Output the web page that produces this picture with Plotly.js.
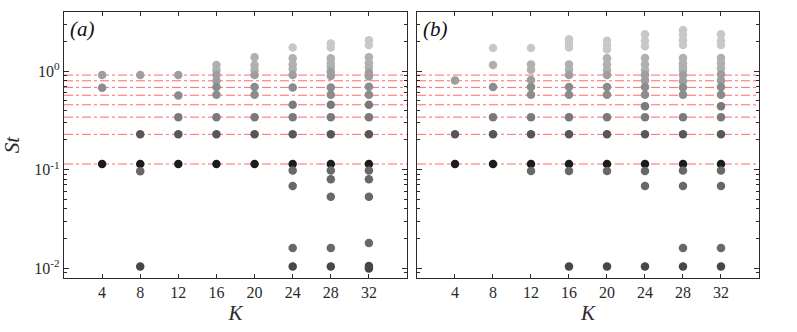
<!DOCTYPE html>
<html>
<head>
<meta charset="utf-8">
<script src="https://cdn.plot.ly/plotly-3.0.1.min.js"></script>
<style>
  body { margin: 0; background: #fff; }
  #chart { width: 797px; height: 332px; }
</style>
</head>
<body>
<div id="chart"></div>
<script>
// number of modes K (x positions)
var K = [4, 8, 12, 16, 20, 24, 28, 32];

// harmonics of the base frequency (red dash-dot lines)
var harmonics = [0.114, 0.228, 0.341, 0.455, 0.569, 0.683, 0.797, 0.911];

// panel (a): Strouhal numbers of the spectral peaks, one list per K
var stA = [
    [0.911, 0.677, 0.114],
    [0.911, 0.228, 0.114, 0.096, 0.0104],
    [0.911, 0.566, 0.341, 0.228, 0.114],
    [1.15, 1.02, 0.911, 0.797, 0.688, 0.574, 0.341, 0.228, 0.114],
    [1.38, 1.15, 1.02, 0.911, 0.688, 0.574, 0.341, 0.228, 0.114],
    [1.74, 1.35, 1.17, 1.05, 0.911, 0.683, 0.455, 0.341, 0.228, 0.114, 0.098, 0.068, 0.016, 0.0104],
    [1.91, 1.74, 1.35, 1.20, 1.10, 0.985, 0.89, 0.683, 0.574, 0.455, 0.341, 0.228, 0.114, 0.098, 0.080, 0.053, 0.016, 0.0104],
    [2.06, 1.84, 1.38, 1.20, 1.09, 0.96, 0.88, 0.693, 0.574, 0.455, 0.341, 0.228, 0.114, 0.098, 0.080, 0.053, 0.018, 0.0105, 0.0099]
];

// panel (b)
var stB = [
    [0.805, 0.228, 0.114],
    [1.72, 1.15, 0.688, 0.341, 0.228, 0.114],
    [1.72, 1.17, 1.03, 0.81, 0.688, 0.574, 0.341, 0.228, 0.114, 0.097],
    [2.1, 1.91, 1.74, 1.17, 1.03, 0.911, 0.688, 0.574, 0.341, 0.228, 0.114, 0.097, 0.0104],
    [2.03, 1.84, 1.66, 1.35, 1.17, 1.02, 0.911, 0.688, 0.574, 0.341, 0.228, 0.114, 0.097, 0.0104],
    [2.37, 2.03, 1.79, 1.36, 1.17, 1.02, 0.911, 0.805, 0.688, 0.574, 0.441, 0.341, 0.228, 0.114, 0.097, 0.068, 0.0104],
    [2.61, 2.32, 2.06, 1.84, 1.36, 1.2, 1.1, 1.02, 0.911, 0.79, 0.683, 0.574, 0.341, 0.228, 0.114, 0.098, 0.068, 0.016, 0.0104],
    [2.37, 2.03, 1.84, 1.36, 1.21, 1.07, 0.93, 0.805, 0.69, 0.574, 0.441, 0.341, 0.228, 0.114, 0.098, 0.068, 0.016, 0.0104]
];

// y tick labels
var yTicks = [0.01, 0.1, 1];
var yTickText = ['10<sup>-2</sup>', '10<sup>-1</sup>', '10<sup>0</sup>'];

// grey shade of a marker
function shade(st) {
    if (st < 0.012) return '#474747';
    if (st < 0.105) return '#686868';
    if (st < 0.15) return '#1c1c1c';
    if (st < 0.28) return '#575757';
    if (st < 0.5) return '#7a7a7a';
    if (st < 0.75) return '#8c8c8c';
    if (st < 1.0) return '#9e9e9e';
    if (st < 1.5) return '#b0b0b0';
    return '#c8c8c8';
}

function makeTrace(st, xa, ya) {
    var xs = [], ys = [], cs = [];
    for (var i = 0; i < K.length; i++) {
        for (var j = 0; j < st[i].length; j++) {
            xs.push(K[i]);
            ys.push(st[i][j]);
            cs.push(shade(st[i][j]));
        }
    }
    return {
        x: xs, y: ys, xaxis: xa, yaxis: ya,
        mode: 'markers', type: 'scatter',
        marker: { size: 8.5, color: cs, line: { width: 0 } },
        hoverinfo: 'x+y', showlegend: false
    };
}

// minor tick positions 2..9 in each decade
var minorVals = [];
[0.001, 0.01, 0.1, 1].forEach(function (d) {
    for (var m = 2; m <= 9; m++) minorVals.push(m * d);
});

var serif = '"Liberation Serif", "Times New Roman", "DejaVu Serif", serif';
var ink = '#2a2a2a';

var xBase = {
    range: [0, 36],
    tickvals: K,
    ticks: 'inside', ticklen: 4, tickcolor: ink,
    showline: true, linecolor: ink, linewidth: 1.2, mirror: 'ticks',
    showgrid: false, zeroline: false,
    tickfont: { family: serif, size: 16, color: ink },
    title: { text: '<i>K</i>', font: { family: serif, size: 21, color: ink }, standoff: 5 }
};

var yBase = {
    type: 'log',
    range: [-2.1, 0.6],
    tickvals: yTicks,
    ticktext: yTickText,
    ticks: 'inside', ticklen: 5, tickcolor: ink,
    showline: true, linecolor: ink, linewidth: 1.2, mirror: 'ticks',
    showgrid: false, zeroline: false,
    tickfont: { family: serif, size: 16, color: ink }
};

// overlaid axes that only draw the short minor ticks
function minorAxis(anchor, over, side) {
    return {
        type: 'log', range: [-2.1, 0.6], overlaying: over, anchor: anchor, side: side,
        tickvals: minorVals, ticks: 'inside', ticklen: 3, tickcolor: ink,
        showticklabels: false, showline: false, showgrid: false, zeroline: false
    };
}

var dom = [0.1627, 0.9639];

var shapes = [];
['x', 'x2'].forEach(function (xa, p) {
    harmonics.forEach(function (h) {
        shapes.push({
            type: 'line', xref: xa + ' domain', yref: p ? 'y2' : 'y',
            x0: 0, x1: 1, y0: h, y1: h,
            line: { color: 'rgba(255,90,90,0.9)', width: 1, dash: 'dashdot' },
            layer: 'below'
        });
    });
});

var layout = {
    width: 797, height: 332,
    margin: { l: 0, r: 0, t: 0, b: 0 },
    paper_bgcolor: '#fff', plot_bgcolor: '#fff',
    xaxis: Object.assign({}, xBase, { domain: [0.0803, 0.5107], anchor: 'y' }),
    xaxis2: Object.assign({}, xBase, { domain: [0.5232, 0.9523], anchor: 'y2' }),
    yaxis: Object.assign({}, yBase, {
        domain: dom, anchor: 'x',
        title: { text: '<i>St</i>', font: { family: serif, size: 21, color: ink }, standoff: 9 }
    }),
    yaxis2: Object.assign({}, yBase, { domain: dom, anchor: 'x2', showticklabels: false }),
    yaxis3: minorAxis('x', 'y', 'left'),
    yaxis4: minorAxis('x', 'y', 'right'),
    yaxis5: minorAxis('x2', 'y2', 'left'),
    yaxis6: minorAxis('x2', 'y2', 'right'),
    shapes: shapes,
    annotations: [
        { xref: 'x domain', yref: 'y domain', x: 0.012, y: 0.99, xanchor: 'left', yanchor: 'top',
          text: '<i>(a)</i>', showarrow: false, font: { family: serif, size: 21, color: '#111' } },
        { xref: 'x2 domain', yref: 'y2 domain', x: 0.012, y: 0.99, xanchor: 'left', yanchor: 'top',
          text: '<i>(b)</i>', showarrow: false, font: { family: serif, size: 21, color: '#111' } }
    ]
};

// dummy traces so the minor-tick axes are drawn
var dummies = ['y3', 'y4', 'y5', 'y6'].map(function (ya, i) {
    return { x: [null], y: [null], xaxis: i < 2 ? 'x' : 'x2', yaxis: ya,
             mode: 'markers', showlegend: false, hoverinfo: 'skip' };
});

Plotly.newPlot('chart', [makeTrace(stA, 'x', 'y'), makeTrace(stB, 'x2', 'y2')].concat(dummies), layout, { staticPlot: true });
</script>
</body>
</html>
